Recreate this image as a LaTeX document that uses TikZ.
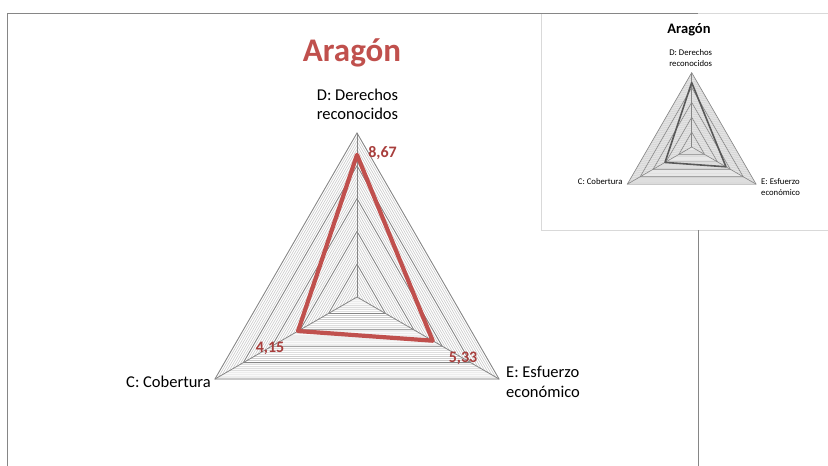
\documentclass[tikz,border=0pt]{standalone}
\usepackage{fontspec}
\setmainfont{Carlito}
\usetikzlibrary{calc}

\definecolor{rojo}{RGB}{192,80,77}
\definecolor{rojoosc}{RGB}{168,62,60}
\definecolor{gris}{RGB}{134,134,134}
\definecolor{gristenue}{RGB}{205,205,205}
\definecolor{grismarco}{RGB}{217,217,217}
\definecolor{grisserie}{RGB}{89,89,89}

\tikzset{
  marco/.style={draw=gris, line width=0.8pt},
  marcoinset/.style={draw=grismarco, line width=0.8pt},
  rejilla/.style={draw=gris, line width=0.8pt},
  subrejilla/.style={draw=gristenue, line width=0.65pt},
  serie/.style={draw=rojo, line width=4.2pt, line join=round},
  serieinset/.style={draw=grisserie, line width=1.6pt, line join=round},
  titulo/.style={text=rojo, font=\fontsize{33}{40}\selectfont\bfseries, inner sep=0pt, anchor=base},
  valor/.style={text=rojoosc, font=\fontsize{16}{19}\selectfont\bfseries, inner sep=0pt, anchor=base},
  eje/.style={font=\fontsize{16.5}{20}\selectfont, inner sep=0pt},
  ejeinset/.style={font=\fontsize{8.7}{11}\selectfont, inner sep=0pt},
}

\begin{document}
\begin{tikzpicture}[x=1pt,y=-1pt]
    \useasboundingbox (0,0) rectangle (828,466);
    % grafico pequeno (arriba a la derecha)
    \fill[white] (541.5,13) rectangle (840,230);
    \draw[marcoinset] (840,13) -- (541.5,13) -- (541.5,230) -- (840,230);
    % marco del grafico grande
    \draw[marco] (7,480) -- (7,13) -- (698,13);
    \draw[marco] (698,230) -- (698,480);

    \node[titulo] (tit) at (352,61) {Arag\'on};

    % radar grande
    \begin{scope}[shift={(357,297)}]
        \foreach \r in {0.25,0.5,...,10}
            \draw[subrejilla] (-90:{\r*16.4}) -- (30:{\r*16.4}) -- (150:{\r*16.4}) -- cycle;
        \foreach \r in {2,4,...,10}
            \draw[rejilla] (-90:{\r*16.4}) -- (30:{\r*16.4}) -- (150:{\r*16.4}) -- cycle;
        \coordinate (o) at (0,0);
        \coordinate (vD) at (-90:164);
        \coordinate (vE) at (30:164);
        \coordinate (vC) at (150:164);
        \foreach \v in {vD,vE,vC}
            \draw[rejilla] (o) -- (\v);
        \coordinate (pD) at (-90:{8.67*16.4});
        \coordinate (pE) at (30:{5.33*16.4});
        \coordinate (pC) at (150:{4.15*16.4});
        \draw[serie] (pD) -- (pE) -- (pC) -- cycle;
    \end{scope}

    \node[valor] (valD) at (382.5,157) {8,67};
    \node[valor] (valC) at (270,352) {4,15};
    \node[valor] (valE) at (463,362) {5,33};

    \node[eje, anchor=base] (ejeD) at (357.5,100) {D: Derechos};
    \node[eje, anchor=base] (ejeD2) at (357.5,119.5) {reconocidos};
    \node[eje, anchor=base east] (ejeC) at (211,387) {C: Cobertura};
    \node[eje, anchor=base west] (ejeE) at (506,377) {E: Esfuerzo};
    \node[eje, anchor=base west] (ejeE2) at (506,397) {econ\'omico};

    % radar pequeno
    \node[font=\fontsize{14.5}{17}\selectfont\bfseries, inner sep=0pt, anchor=base] (titin) at (689,33) {Arag\'on};
    \begin{scope}[shift={(691.7,147)}]
        \foreach \r in {0.25,0.5,...,10}
            \draw[subrejilla, line width=0.5pt] (-90:{\r*7.43}) -- (30:{\r*7.43}) -- (150:{\r*7.43}) -- cycle;
        \foreach \r in {2,4,...,10}
            \draw[rejilla, line width=0.6pt] (-90:{\r*7.43}) -- (30:{\r*7.43}) -- (150:{\r*7.43}) -- cycle;
        \coordinate (io) at (0,0);
        \coordinate (iD) at (-90:74.3);
        \coordinate (iE) at (30:74.3);
        \coordinate (iC) at (150:74.3);
        \foreach \v in {iD,iE,iC}
            \draw[rejilla, line width=0.6pt] (io) -- (\v);
        \coordinate (ipD) at (-90:{8.67*7.43});
        \coordinate (ipE) at (30:{5.33*7.43});
        \coordinate (ipC) at (150:{4.15*7.43});
        \draw[serieinset] (ipD) -- (ipE) -- (ipC) -- cycle;
    \end{scope}
    \node[ejeinset, anchor=base] (inD) at (690.7,55) {D: Derechos};
    \node[ejeinset, anchor=base] (inD2) at (690.7,66) {reconocidos};
    \node[ejeinset, anchor=base east] (inC) at (622.7,184.3) {C: Cobertura};
    \node[ejeinset, anchor=base west] (inE) at (761,184.3) {E: Esfuerzo};
    \node[ejeinset, anchor=base west] (inE2) at (761,195.5) {econ\'omico};
\end{tikzpicture}
\end{document}
